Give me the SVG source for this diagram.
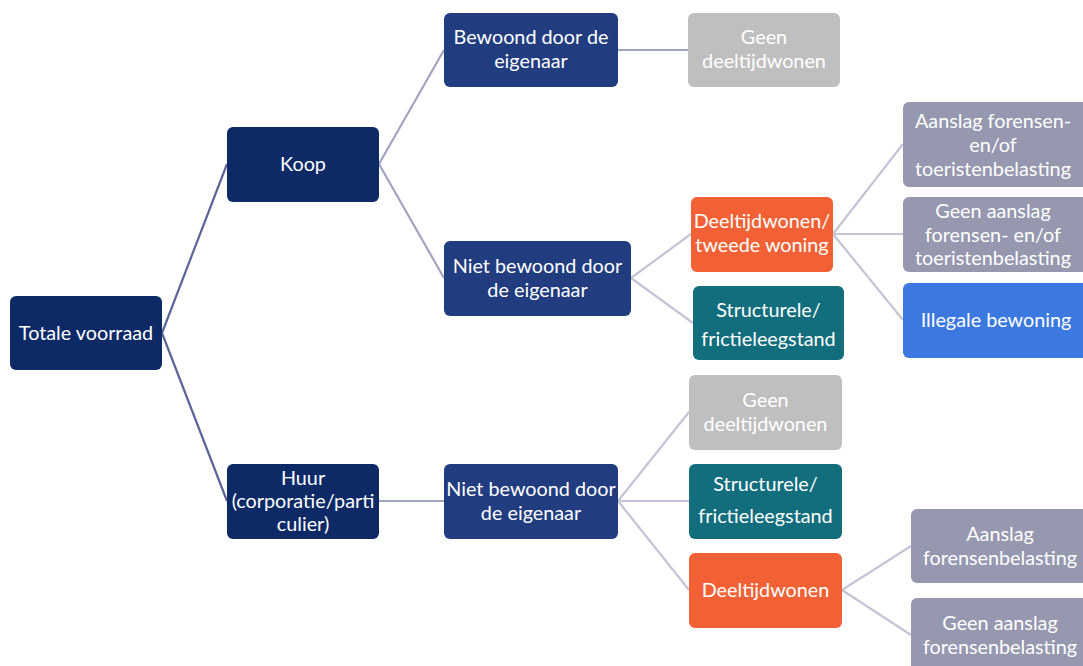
<svg xmlns="http://www.w3.org/2000/svg" width="1083" height="666" viewBox="0 0 1083 666">
<style>
rect{rx:6px;ry:6px}
text{font-family:Lato,"Liberation Sans",sans-serif;font-size:19.8px;fill:#fff;text-anchor:middle}
.l1{stroke:#5b6496;stroke-width:2.2;fill:none}
.l2{stroke:#a2a5c0;stroke-width:2.2;fill:none}
.l3{stroke:#c3c5d6;stroke-width:2.2;fill:none}
.navy{fill:#0d2a67}
.navy2{fill:#213d80}
.grey{fill:#bfbfbf}
.orange{fill:#f26135}
.teal{fill:#126e7d}
.lav{fill:#9698b0}
.blue{fill:#3b78e0}
</style>
<rect width="1083" height="666" fill="#fff" style="rx:0;ry:0"/>
<g id="connectors">
<path class="l1" d="M162 333 L227 164 M162 333 L227 501"/>
<path class="l2" d="M379 164 L444 50 M379 164 L444 278 M618 50 L688 50 M379 501 L444 501"/>
<path class="l3" d="M631 278 L691 234 M631 278 L693 323 M833 234 L903 144 M833 234 L903 234 M833 234 L903 320 M618 501 L689 412 M618 501 L689 501 M618 501 L689 590 M842 590 L911 546 M842 590 L911 635"/>
</g>
<g id="totale"><rect class="navy" x="10" y="296" width="152" height="74"/><text x="86" y="340">Totale voorraad</text></g>
<g id="koop"><rect class="navy" x="227" y="127" width="152" height="75"/><text x="303" y="171">Koop</text></g>
<g id="huur"><rect class="navy" x="227" y="464" width="152" height="75"/><text x="303" y="485">Huur</text><text x="303" y="508">(corporatie/parti</text><text x="303" y="531">culier)</text></g>
<g id="bewoond"><rect class="navy2" x="444" y="13" width="174" height="74"/><text x="531" y="44">Bewoond door de</text><text x="531" y="68">eigenaar</text></g>
<g id="niet-bewoond-koop"><rect class="navy2" x="444" y="241" width="187" height="75"/><text x="537.5" y="273">Niet bewoond door</text><text x="537.5" y="297">de eigenaar</text></g>
<g id="geen-deeltijd-1"><rect class="grey" x="688" y="13" width="152" height="74"/><text x="764" y="44">Geen</text><text x="764" y="68">deeltijdwonen</text></g>
<g id="deeltijd-tweede"><rect class="orange" x="691" y="197" width="142" height="75"/><text x="762" y="228">Deeltijdwonen/</text><text x="762" y="252">tweede woning</text></g>
<g id="structureel-1"><rect class="teal" x="693" y="286" width="151" height="74"/><text x="768.5" y="317">Structurele/</text><text x="768.5" y="346">frictieleegstand</text></g>
<g id="aanslag-1"><rect class="lav" x="903" y="102" width="190" height="85"/><text x="993" y="128">Aanslag forensen-</text><text x="993" y="152">en/of</text><text x="993" y="176">toeristenbelasting</text></g>
<g id="geen-aanslag-1"><rect class="lav" x="903" y="197" width="190" height="75"/><text x="993" y="218">Geen aanslag</text><text x="993" y="242">forensen- en/of</text><text x="993" y="265">toeristenbelasting</text></g>
<g id="illegaal"><rect class="blue" x="903" y="283" width="190" height="75"/><text x="996" y="327">Illegale bewoning</text></g>
<g id="niet-bewoond-huur"><rect class="navy2" x="444" y="464" width="174" height="75"/><text x="531" y="496">Niet bewoond door</text><text x="531" y="520">de eigenaar</text></g>
<g id="geen-deeltijd-2"><rect class="grey" x="689" y="375" width="153" height="75"/><text x="765.5" y="407">Geen</text><text x="765.5" y="431">deeltijdwonen</text></g>
<g id="structureel-2"><rect class="teal" x="689" y="464" width="153" height="75"/><text x="765.5" y="491">Structurele/</text><text x="765.5" y="523">frictieleegstand</text></g>
<g id="deeltijd-2"><rect class="orange" x="689" y="553" width="153" height="75"/><text x="765.5" y="597">Deeltijdwonen</text></g>
<g id="aanslag-2"><rect class="lav" x="911" y="509" width="182" height="74"/><text x="1000" y="541">Aanslag</text><text x="1000" y="565">forensenbelasting</text></g>
<g id="geen-aanslag-2"><rect class="lav" x="911" y="598" width="182" height="80"/><text x="1000" y="630">Geen aanslag</text><text x="1000" y="654">forensenbelasting</text></g>
</svg>
